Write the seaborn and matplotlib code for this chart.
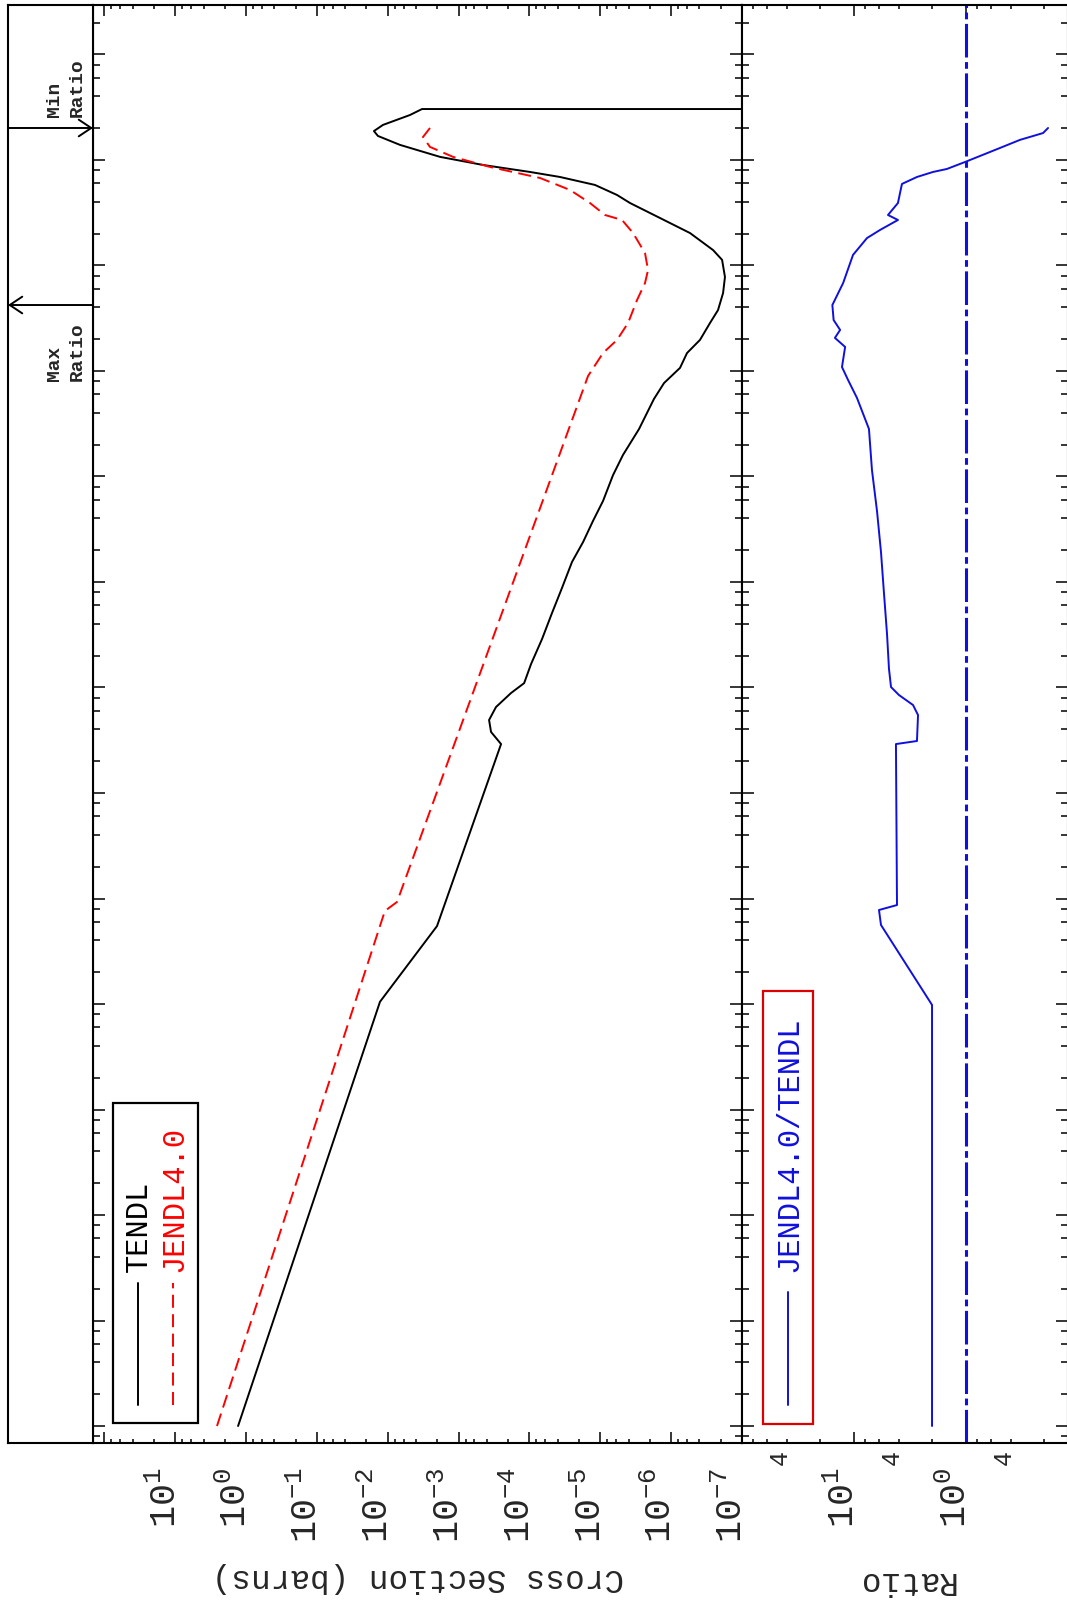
import numpy as np
import pandas as pd
import matplotlib
matplotlib.use("Agg")
import matplotlib.pyplot as plt
import matplotlib.ticker as mticker
import matplotlib.transforms as mtransforms
from matplotlib.patches import Rectangle
from matplotlib.lines import Line2D
import seaborn as sns

# ---------------- data ----------------
tendl_energy = [1.0e-5, 0.105, 0.548, 29.1, 37.9, 49.2, 65.3, 88.7, 110, 167, 288, 508,
                877, 1549, 2394, 3788, 5861, 1.03e4, 1.60e4, 2.82e4, 5.43e4, 7.69e4,
                1.07e5, 1.48e5, 1.97e5, 2.85e5, 3.78e5, 5.48e5, 7.78e5, 1.13e6, 1.40e6,
                2.03e6, 2.82e6, 3.91e6, 4.66e6, 5.80e6, 6.90e6, 7.70e6, 8.97e6, 1.07e7,
                1.39e7, 1.69e7, 1.88e7, 2.15e7, 2.67e7, 3.04e7, 3.04e7]
tendl_xs = [1.30, 1.29e-2, 2.02e-3, 2.52e-4, 3.49e-4, 3.72e-4, 2.97e-4, 1.82e-4, 1.19e-4,
            9.5e-5, 6.65e-5, 4.81e-5, 3.48e-5, 2.51e-5, 1.75e-5, 1.27e-5, 9.16e-6,
            6.62e-6, 4.79e-6, 2.84e-6, 1.75e-6, 1.26e-6, 7.50e-7, 5.97e-7, 3.92e-7,
            2.83e-7, 2.18e-7, 1.85e-7, 1.74e-7, 1.91e-7, 2.56e-7, 5.42e-7, 1.44e-6,
            3.81e-6, 5.81e-6, 1.19e-5, 3.71e-5, 9.84e-5, 4.53e-4, 1.83e-3, 6.73e-3,
            1.38e-2, 1.57e-2, 1.17e-2, 4.86e-3, 3.29e-3, 1e-12]

jendl_energy = [1.0e-5, 0.762, 0.927, 8.97e4, 1.48e5, 1.97e5, 2.85e5, 4.71e5, 6.82e5,
                9.06e5, 1.31e6, 2.03e6, 2.70e6, 3.01e6, 3.91e6, 5.20e6, 6.75e6, 8.59e6,
                1.07e7, 1.33e7, 1.65e7, 2.01e7]
jendl_xs = [2.58, 1.10e-2, 7.42e-3, 1.49e-5, 9.16e-6, 5.81e-6, 4.06e-6, 3.03e-6, 2.34e-6,
            2.12e-6, 2.34e-6, 3.45e-6, 4.94e-6, 8.59e-6, 1.40e-5, 2.68e-5, 7.10e-5,
            3.61e-4, 1.20e-3, 2.54e-3, 3.19e-3, 2.54e-3]

ratio_energy = [1.0e-5, 0.098, 0.561, 0.778, 0.867, 29.1, 31.1, 54.8, 68.2, 84.9, 101, 150,
                321, 787, 1924, 4710, 1.15e4, 2.82e4, 5.55e4, 8.22e4, 1.09e5, 1.69e5,
                2.06e5, 2.45e5, 3.04e5, 4.22e5, 6.82e5, 1.26e6, 1.82e6, 2.17e6, 2.70e6,
                3.01e6, 3.91e6, 4.87e6, 5.93e6, 6.90e6, 7.70e6, 8.22e6, 9.57e6, 1.30e7,
                1.55e7, 1.80e7, 2.01e7]
ratio_values = [2.01, 2.01, 5.74, 5.98, 4.13, 4.22, 2.74, 2.68, 2.97, 3.97, 4.67, 4.87,
                5.07, 5.40, 5.74, 6.23, 6.91, 7.35, 9.40, 11.3, 12.8, 12.0, 14.8, 13.3,
                15.2, 15.6, 12.5, 10.2, 7.65, 5.86, 4.05, 4.97, 4.05, 3.88, 3.73, 2.74,
                1.97, 1.48, 1.02, 0.497, 0.330, 0.205, 0.185]

series_names = ["TENDL", "JENDL4.0"]
ratio_name = "JENDL4.0/TENDL"

xs_ticks = [1e2, 1e1, 1e0, 1e-1, 1e-2, 1e-3, 1e-4, 1e-5, 1e-6, 1e-7]
xs_tick_labels = ["", "$10^{1}$", "$10^{0}$", "$10^{-1}$", "$10^{-2}$", "$10^{-3}$",
                  "$10^{-4}$", "$10^{-5}$", "$10^{-6}$", "$10^{-7}$"]
ratio_major_ticks = [1e2, 1e1, 1e0]
ratio_major_labels = ["", "$10^{1}$", "$10^{0}$"]
ratio_minor_ticks = [80, 60, 40, 20, 8, 6, 4, 2, 0.8, 0.6, 0.4, 0.2]
ratio_minor_labels = ["", "", "4", "", "", "", "4", "", "", "", "4", ""]

# ---------------- style ----------------
sns.set_theme(style="white")
plt.rcParams["font.family"] = ["Liberation Mono", "DejaVu Sans"]
plt.rcParams["mathtext.fontset"] = "custom"
plt.rcParams["mathtext.rm"] = "Liberation Mono"
plt.rcParams["mathtext.it"] = "Liberation Mono"
plt.rcParams["mathtext.bf"] = "Liberation Mono:bold"
plt.rcParams["mathtext.default"] = "rm"
plt.rcParams["axes.edgecolor"] = "black"
plt.rcParams["axes.linewidth"] = 1.5

BLUE = "#1010dd"
RED = "#ff0000"
W, H = 1067, 1602
fig = plt.figure(figsize=(W / 100, H / 100), dpi=100)


def fx(px):
    return px / W


def fy(py):
    return 1 - py / H


TOP, BOT = 5, 1443
ax1 = fig.add_axes([fx(93), fy(BOT), fx(742) - fx(93), fy(TOP) - fy(BOT)])
ax2 = fig.add_axes([fx(742), fy(BOT), fx(1068) - fx(742), fy(TOP) - fy(BOT)])
axa = fig.add_axes([fx(8), fy(BOT), fx(93) - fx(8), fy(TOP) - fy(BOT)])

E_LO, E_HI = 10 ** -5.161, 10 ** 8.469
for ax in (ax1, ax2, axa):
    ax.set_yscale("log")
ax1.set_xscale("log")
ax2.set_xscale("log")

df_t = pd.DataFrame({"xs": tendl_xs, "E": tendl_energy})
df_j = pd.DataFrame({"xs": jendl_xs, "E": jendl_energy})
df_r = pd.DataFrame({"ratio": ratio_values, "E": ratio_energy})

sns.lineplot(data=df_t, x="xs", y="E", ax=ax1, sort=False, estimator=None,
             color="black", lw=1.4, legend=False)
sns.lineplot(data=df_j, x="xs", y="E", ax=ax1, sort=False, estimator=None,
             color=RED, lw=1.4, linestyle=(0, (6.7, 3.3)), legend=False)
sns.lineplot(data=df_r, x="ratio", y="E", ax=ax2, sort=False, estimator=None,
             color=BLUE, lw=1.4, legend=False)
ax2.axvline(1.0, color=BLUE, lw=2.2, linestyle=(0, (11, 1.5, 2.2, 1.5)))

# ---------------- energy axes ----------------
for ax in (ax1, ax2, axa):
    ax.set_ylim(E_LO, E_HI)
    ax.set_ylabel("")
for ax in (ax1, ax2):
    ax.yaxis.set_major_locator(mticker.LogLocator(base=10, numticks=40))
    ax.yaxis.set_minor_locator(mticker.LogLocator(base=10, subs=(2, 4, 6, 8), numticks=40))
    ax.yaxis.set_major_formatter(mticker.NullFormatter())
    ax.yaxis.set_minor_formatter(mticker.NullFormatter())
    ax.tick_params(axis="y", which="major", direction="in", left=True, right=True,
                   length=8.6, width=1.1, labelleft=False, color="black")
    ax.tick_params(axis="y", which="minor", direction="in", left=True, right=True,
                   length=5, width=1.1, color="black")

# ---------------- cross-section axis ----------------
ax1.set_xlim(10 ** 2.162, 1e-7)
ax1.set_xticks(xs_ticks, xs_tick_labels)
ax1.xaxis.set_minor_locator(mticker.LogLocator(base=10, subs=(2, 4, 6, 8), numticks=40))
ax1.xaxis.set_minor_formatter(mticker.NullFormatter())
ax1.tick_params(axis="x", which="major", direction="in", top=True, bottom=True,
                length=8, width=1.1, pad=17.5, labelsize=26.5, color="black")
ax1.tick_params(axis="x", which="minor", direction="in", top=True, bottom=True,
                length=3, width=1.1, color="black")

# ---------------- ratio axis ----------------
ax2.set_xlim(100, 10 ** -0.911)
ax2.set_xticks(ratio_major_ticks, ratio_major_labels)
ax2.set_xticks(ratio_minor_ticks, ratio_minor_labels, minor=True)
ax2.tick_params(axis="x", which="major", direction="in", top=True, bottom=True,
                length=8, width=1.1, pad=17.5, labelsize=26.5, color="black")
ax2.tick_params(axis="x", which="minor", direction="in", top=True, bottom=True,
                length=3, width=1.1, pad=5, labelsize=18, color="black")

for lab in (ax1.get_xticklabels() + ax2.get_xticklabels()
            + ax2.get_xticklabels(minor=True)):
    lab.set_rotation(90)
    lab.set_rotation_mode("anchor")
    lab.set_ha("right")
    lab.set_va("baseline")

ax1.set_xlabel("Cross Section (barns)", fontsize=23.5, rotation=180)
ax1.xaxis.label.set_va("center")
ax1.xaxis.set_label_coords(0.5, (BOT - 1578) / (BOT - TOP))
ax2.set_xlabel("Ratio", fontsize=23.5, rotation=180)
ax2.xaxis.label.set_va("center")
ax2.xaxis.set_label_coords(0.5, (BOT - 1580) / (BOT - TOP))

# ---------------- annotation strip (min / max ratio) ----------------
axa.set_xlim(0, 1)
axa.set_xticks([])
axa.yaxis.set_major_locator(mticker.NullLocator())
axa.yaxis.set_minor_locator(mticker.NullLocator())
e_min = ratio_energy[int(np.argmin(ratio_values))]
e_max = ratio_energy[int(np.argmax(ratio_values))]
arrow_style = "->,head_length=0.45,head_width=0.3"
axa.annotate("", xy=(1, e_min), xytext=(0, e_min),
             arrowprops=dict(arrowstyle=arrow_style, lw=1.4, color="black",
                             shrinkA=0, shrinkB=0, mutation_scale=20))
axa.annotate("", xy=(0, e_max), xytext=(1, e_max),
             arrowprops=dict(arrowstyle=arrow_style, lw=1.4, color="black",
                             shrinkA=0, shrinkB=0, mutation_scale=20))
up = mtransforms.offset_copy(axa.transData, fig=fig, x=0, y=11, units="dots")
down = mtransforms.offset_copy(axa.transData, fig=fig, x=0, y=-17, units="dots")
axa.text(0.68, e_min, "Min\nRatio", rotation=90, ha="center", va="bottom",
         multialignment="left", fontsize=14, fontweight="bold", linespacing=1.4,
         transform=up)
axa.text(0.68, e_max, "Max\nRatio", rotation=90, ha="center", va="top",
         multialignment="left", fontsize=14, fontweight="bold", linespacing=1.4,
         transform=down)

# ---------------- legends (drawn rotated like the reference) ----------------
tf = fig.transFigure
fig.add_artist(Rectangle((fx(113), fy(1423)), fx(198) - fx(113), fy(1103) - fy(1423),
                         transform=tf, fill=False, ec="black", lw=1.6))
fig.add_artist(Line2D([fx(138)] * 2, [fy(1405), fy(1283)], transform=tf,
                      color="black", lw=1.4))
fig.text(fx(139), fy(1272), series_names[0], rotation=90, ha="center", va="bottom",
         fontsize=22, color="black")
fig.add_artist(Line2D([fx(173)] * 2, [fy(1405), fy(1283)], transform=tf,
                      color=RED, lw=1.4, linestyle=(0, (6.7, 3.3))))
fig.text(fx(174), fy(1272), series_names[1], rotation=90, ha="center", va="bottom",
         fontsize=22, color=RED)

fig.add_artist(Rectangle((fx(763), fy(1424)), fx(813) - fx(763), fy(991) - fy(1424),
                         transform=tf, fill=False, ec="#dd0000", lw=1.6))
fig.add_artist(Line2D([fx(788)] * 2, [fy(1405), fy(1292)], transform=tf,
                      color=BLUE, lw=1.4))
fig.text(fx(789), fy(1272), ratio_name, rotation=90, ha="center", va="bottom",
         fontsize=22, color=BLUE)

fig.savefig("out.png", dpi=100)
